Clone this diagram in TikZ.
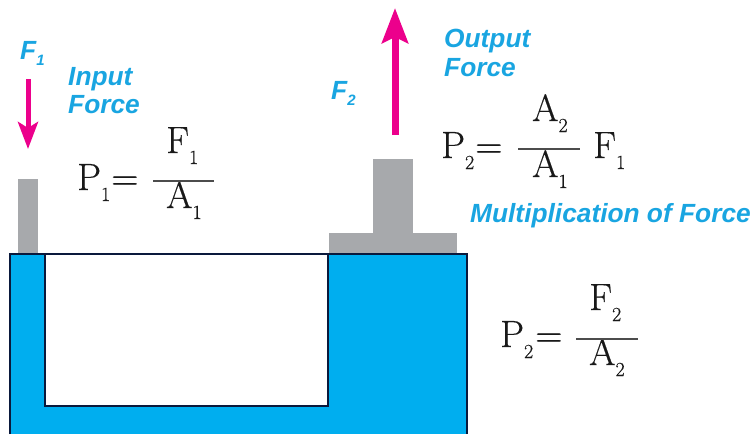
\documentclass[tikz,border=0pt]{standalone}
\usepackage{fontspec}
\newfontfamily\labelfont{Liberation Sans}
\newfontfamily\eqnfont[FakeBold=0.5]{Latin Modern Roman}
\usetikzlibrary{arrows.meta}
\definecolor{fluidblue}{RGB}{0,174,239}
\definecolor{labelblue}{RGB}{25,165,225}
\definecolor{pistongray}{RGB}{167,169,172}
\definecolor{forcepink}{RGB}{236,0,140}
\definecolor{edgenavy}{RGB}{10,25,60}
\newcommand{\subn}[1]{\raisebox{-11pt}{\fontsize{20}{20}\selectfont #1}}
\newcommand{\subl}[1]{\raisebox{-6pt}{\fontsize{15}{15}\selectfont #1}}
\tikzset{
  eqn/.style={anchor=base west,inner sep=0pt,text=black!90,font=\eqnfont\fontsize{38}{38}\selectfont},
  lbl/.style={anchor=base west,inner sep=0pt,text=labelblue,font=\labelfont\bfseries\itshape\fontsize{26.3}{29}\selectfont,align=left},
  force/.style={draw=forcepink,line width=#1},
  piston/.style={fill=pistongray},
  bar/.style={line width=1.2pt,draw=black!70},
  fluidedge/.style={draw=edgenavy,line width=1.6pt}
}
\begin{document}
\begin{tikzpicture}[x=1pt,y=-1pt]
\useasboundingbox (0,0) rectangle (755,434);

%pistons
\fill[piston](18,179) rectangle (38,254);
\fill[piston](373,159) rectangle (413,233);
\fill[piston](329,233) rectangle (457,254);

%fluid
\fill[fluidblue](10,434)--(10,254)--(467,254)--(467,434)--cycle;
\draw[fluidedge](10,434)--(10,254)--(467,254)--(467,434);
\draw[fluidedge,fill=white](45,254) rectangle (328,406);

%forces
\coordinate (f1start) at (28,79);
\coordinate (f1end) at (28,149);
\coordinate (f2start) at (395,135);
\coordinate (f2end) at (395,8);
\draw[force=5pt,-{Stealth[length=27pt,width=20pt,inset=6pt,forcepink]}](f1start)--(f1end);
\draw[force=7pt,-{Stealth[length=35pt,width=26pt,inset=6pt,forcepink]}](f2start)--(f2end);

\node[lbl] (f1lbl) at (20,59) {F\subl{1}};
\node[lbl] (f2lbl) at (331,99) {F\subl{2}};
\node[lbl] (inlbl) at (68,85) {Input};
\node[lbl] (inlbl2) at (68,113) {Force};
\node[lbl] (outlbl) at (444,47) {Output};
\node[lbl] (outlbl2) at (444,76) {Force};
\node[lbl] (multlbl) at (470,222) {Multiplication of Force};

%first equation
\node[eqn] (p1) at (77,190) {P\subn{1}};
\node[eqn] (eq1) at (111,190) {=};
\node[eqn] (num1) at (166,153) {F\subn{1}};
\node[eqn] (den1) at (166,208) {A\subn{1}};
\coordinate (bar1a) at (153,181);
\coordinate (bar1b) at (214,181);
\draw[bar](bar1a)--(bar1b);

%second equation
\node[eqn] (p2) at (441,158) {P\subn{2}};
\node[eqn] (eq2) at (475,158) {=};
\node[eqn] (num2) at (532,121) {A\subn{2}};
\node[eqn] (den2) at (532,177) {A\subn{1}};
\node[eqn] (f1) at (593,158) {F\subn{1}};
\coordinate (bar2a) at (518,149);
\coordinate (bar2b) at (580,149);
\draw[bar](bar2a)--(bar2b);

%third equation
\node[eqn] (p3) at (500,347) {P\subn{2}};
\node[eqn] (eq3) at (535,347) {=};
\node[eqn] (num3) at (589,310) {F\subn{2}};
\node[eqn] (den3) at (589,365) {A\subn{2}};
\coordinate (bar3a) at (576,339);
\coordinate (bar3b) at (638,339);
\draw[bar](bar3a)--(bar3b);

\end{tikzpicture}
\end{document}
